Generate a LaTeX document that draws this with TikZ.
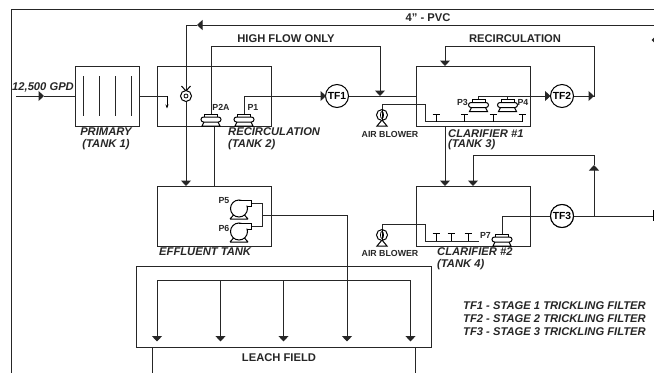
\documentclass[tikz,border=0pt]{standalone}
\usepackage{fontspec}
\setmainfont{Liberation Sans}
\usetikzlibrary{arrows.meta}
\tikzset{
 tank/.style={draw=black!85,line width=1pt,inner sep=0,outer sep=0,anchor=north west},
 pipe/.style={draw=black!85,line width=1pt},
 tip/.style={pipe,-{Triangle[width=10pt,length=5.5pt]},shorten >=0pt},
 lab/.style={font=\bfseries\itshape\fontsize{11.2}{11.5}\selectfont,inner sep=0,align=left,anchor=west,text=black!85},
 labn/.style={font=\bfseries\fontsize{11.2}{11.5}\selectfont,inner sep=0,text=black!85},
 small/.style={font=\bfseries\fontsize{8.8}{9}\selectfont,inner sep=0,text=black!85},
 filter/.style={circle,draw=black,line width=1pt,minimum size=23pt,inner sep=0,outer sep=0,font=\fontsize{10.3}{11}\selectfont\bfseries,fill=white},
 pumpa/.pic={
  \draw[line width=1pt,fill=white] (-6.5,-5.5) -- (6.5,-5.5) -- (6.5,-2.5) -- (-6.5,-2.5) -- cycle;
  \draw[line width=1pt,fill=white,rounded corners=2.5pt] (-10,-2.5) -- (10,-2.5) -- (10,2.5) -- (-10,2.5) -- cycle;
  \draw[line width=1pt] (-7,2.5) -- (-9,6.5) -- (9,6.5) -- (7,2.5);
 },
 pumpc/.pic={
  \draw[line width=1pt] (-9,10.5) -- (9,10.5) (-5,6) -- (-9,10.5) (5,6) -- (9,10.5);
  \draw[line width=1pt,fill=white] (0,0) circle (8.5);
  \fill[white] (1,-7.8) -- (12,-8) -- (12,-3) -- (6,-3) -- cycle;
  \draw[line width=1pt] (0,-8.5) -- (12.5,-8.5) -- (12.5,-2.5) -- (7.8,-2.5);
 },
 blower/.pic={
  \draw[line width=1pt] (-5,11) -- (0,5) -- (5,11) -- cycle;
  \draw[line width=1pt,fill=white] (0,0) circle (5.5);
  \draw[line width=0.7pt] (0,0) ellipse (1.6 and 3.5);
  \draw[line width=0.7pt] (0,-5.5) -- (0,5.5);
 },
 fan/.pic={
  \draw[line width=1pt] (-4.5,-10) -- (0,-5) -- (4.5,-10);
  \draw[line width=1pt,fill=white] (0,0) circle (5.5);
  \draw[line width=0.8pt] (0,0) circle (2);
 },
 tee/.pic={\draw[line width=1pt] (0,0) -- (0,-7.5) (-3.5,-7.5) -- (3.5,-7.5);}
}
\begin{document}
\begin{tikzpicture}[x=1pt,y=-1pt]
\useasboundingbox (0,0) rectangle (654,373);
% frame
\coordinate (fTR) at (654,9.5); \coordinate (fTL) at (11,9.5); \coordinate (fBL) at (11,373);
\draw[pipe] (fTR) -- (fTL) -- (fBL);
% tanks
\node[tank,minimum width=64pt,minimum height=60pt] (t1) at (75.5,66) {};
\node[tank,minimum width=114.5pt,minimum height=60pt] (t2) at (157,66) {};
\node[tank,minimum width=114.5pt,minimum height=60pt] (t3) at (416,66) {};
\node[tank,minimum width=114.5pt,minimum height=60pt] (t4) at (416,186) {};
\node[tank,minimum width=114.5pt,minimum height=60pt] (te) at (157,186) {};
\node[tank,minimum width=295pt,minimum height=81pt] (lf) at (136,266) {};
% primary baffles
\foreach \x in {83.5,99.5,115.5,131} \draw[pipe] (\x,76) -- (\x,116);
% filters
\node[filter] (tf1) at (337,96) {TF1};
\node[filter] (tf2) at (562,96) {TF2};
\node[filter] (tf3) at (562,216) {TF3};
% coordinates
\coordinate (in0) at (16,96); \coordinate (inA) at (44,96);
\coordinate (out1) at (167,96); \coordinate (out1b) at (167,108.5);
\coordinate (pvcR) at (654,25); \coordinate (pvcA) at (197,25); \coordinate (pvcL) at (186,25);
\coordinate (teIn) at (186,186);
\coordinate (hfA) at (211,46); \coordinate (hfB) at (380,46); \coordinate (hfC) at (380,96);
\coordinate (p1a) at (244,96); \coordinate (p1b) at (244,114);
\coordinate (p2a) at (211,114);
\coordinate (p2o) at (214,126); \coordinate (p2e) at (214,186);
\coordinate (tfa) at (326,96);
\coordinate (t3l) at (416,96);
\coordinate (t3in) at (445,66); \coordinate (r1) at (445,46); \coordinate (r2) at (594,46); \coordinate (r3) at (594,96);
\coordinate (p3t) at (478.5,96); \coordinate (p4t) at (507.5,96); \coordinate (p3b) at (478.5,100); \coordinate (p4b) at (507.5,100);
\coordinate (t3b) at (445,126); \coordinate (t4a) at (445,186);
\coordinate (t4b) at (473,186); \coordinate (q1) at (473,155); \coordinate (q2) at (594,155); \coordinate (q3) at (594,216);\coordinate (qA) at (594,165);
\coordinate (end) at (653.5,216); \coordinate (endU) at (653.5,210); \coordinate (endD) at (653.5,221);
% pipes
\draw[tip] (in0) -- (inA);
\draw[pipe] (inA) -- (t1.west |- inA);
\draw[pipe] (t1.east |- in0) -- (out1);
\draw[line width=0.8pt,-{Stealth[length=4pt,width=3pt]}] (out1) -- (out1b);
\draw[tip] (pvcR) -- (pvcA);
\draw[pipe] (pvcA) -- (pvcL);
\draw[tip] (pvcL) -- (teIn);
\draw[pipe] (p2a) -- (hfA) -- (hfB);
\draw[tip] (hfB) -- (hfC);
\draw[pipe] (p2o) -- (p2e);
\draw[pipe] (p1b) -- (p1a) -- (tfa);
\draw[tip] (p1a) -- (tfa);
\draw[pipe] (tf1) -- (t3l);
\draw[tip] (r1) -- (t3in);
\draw[pipe] (r1) -- (r2) -- (r3) -- (tf2);
\draw[tip] (tf2.east) -- (r3);
\draw[tip] (p3t) -- (tf2.west);
\draw[pipe] (p3t) -- (p3b) (p4t) -- (p4b);
\draw[tip] (t3b) -- (t4a);
\draw[tip] (q1) -- (t4b);
\draw[pipe] (q1) -- (q2);
\draw[tip] (q3) -- (qA);
\draw[pipe] (qA) -- (q2);
\draw[pipe] (tf3) -- (end);
\draw[line width=1.2pt] (endU) -- (endD);
% air lines T3
\coordinate (b1) at (382,115); \coordinate (b2) at (382,235);
\draw[pipe] (b1) -- (382,104.5) -- (425.5,104.5) -- (425.5,121.5) -- (522,121.5);
\foreach \x in {436,464.5,493,522} \pic at (\x,121.5) {tee};
\draw[pipe] (b2) -- (382,224.5) -- (425.5,224.5) -- (425.5,241) -- (479,241);
\foreach \x in {436,451,468} \pic at (\x,241) {tee};
\pic at (b1) {blower};
\pic at (b2) {blower};
\pic at (186,96) {fan};
% pumps
\pic at (211,119.5) {pumpa};
\pic at (244,119.5) {pumpa};
\pic at (478.5,105) {pumpa};
\pic at (507.5,105) {pumpa};
\pic at (502,239.5) {pumpa};
\coordinate (p7t) at (502,234); \coordinate (p7c) at (502,216);
\draw[pipe] (p7t) -- (p7c) -- (tf3);
\node[filter] at (562,216) {TF3};
% effluent pumps
\pic at (239,208.5) {pumpc};
\pic at (239,231.5) {pumpc};
\coordinate (e1) at (251.5,203.5); \coordinate (e2) at (262,203.5); \coordinate (e3) at (262,226.5);\coordinate (e4) at (251.5,226.5);
\coordinate (e5) at (262,215); \coordinate (e6) at (347,215);
\draw[pipe] (e1) -- (e2) -- (e3) -- (e4);
% leach field
\draw[pipe] (e5) -- (e6);
\coordinate (m0) at (157,280); \coordinate (m4) at (410.5,280);
\draw[pipe] (m0) -- (m4);
\foreach \n/\x in {a/157,b/220.5,c/283.5,e/410.5}{
  \coordinate (v\n) at (\x,280); \coordinate (w\n) at (\x,341.5);
  \draw[tip] (v\n) -- (w\n);
}
\coordinate (we) at (347,341.5);
\draw[tip] (e6) -- (we);
\coordinate (l1) at (152,347); \coordinate (l2) at (152,373); \coordinate (l3) at (415,347); \coordinate (l4) at (415,373);
\draw[pipe] (l1) -- (l2) (l3) -- (l4);
% stray tip at right edge
\fill[black!85] (654,37.5) -- (651.5,40) -- (654,42.5) -- cycle;
% labels
\node[labn] (lpvc) at (428,18) {4" - PVC};
\node[labn] (lhf) at (286,39) {HIGH FLOW ONLY};
\node[labn] (lrc) at (515,39) {RECIRCULATION};
\node[lab] (lin) at (12,87.5) {12,500 GPD};
\node[lab,align=center,anchor=center] (lpr) at (106,138.5) {PRIMARY\\[0.5pt](TANK 1)};
\node[lab] (lr2) at (228,138.5) {RECIRCULATION\\[0.5pt](TANK 2)};
\node[lab] (lc1) at (448,140) {CLARIFIER \#1\\[-1.5pt](TANK 3)};
\node[lab] (lc2) at (437,259) {CLARIFIER \#2\\[0.5pt](TANK 4)};
\node[lab] (let) at (159,252) {EFFLUENT TANK};
\node[labn] (llf) at (279,358) {LEACH FIELD};
\node[small] (ab1) at (390,134) {AIR BLOWER};
\node[small] (ab2) at (390,253.5) {AIR BLOWER};
\node[small] (lp2a) at (221,107.5) {P2A};
\node[small] (lp1) at (253,107.5) {P1};
\node[small] (lp3) at (462.5,102.5) {P3};
\node[small] (lp4) at (523,102.5) {P4};
\node[small] (lp7) at (485.5,235) {P7};
\node[small] (lp5) at (224,200.5) {P5};
\node[small] (lp6) at (224,228) {P6};
\node[lab] (k1) at (463,306) {TF1 - STAGE 1 TRICKLING FILTER};
\node[lab] (k2) at (463,319) {TF2 - STAGE 2 TRICKLING FILTER};
\node[lab] (k3) at (463,332) {TF3 - STAGE 3 TRICKLING FILTER};
\end{tikzpicture}
\end{document}
